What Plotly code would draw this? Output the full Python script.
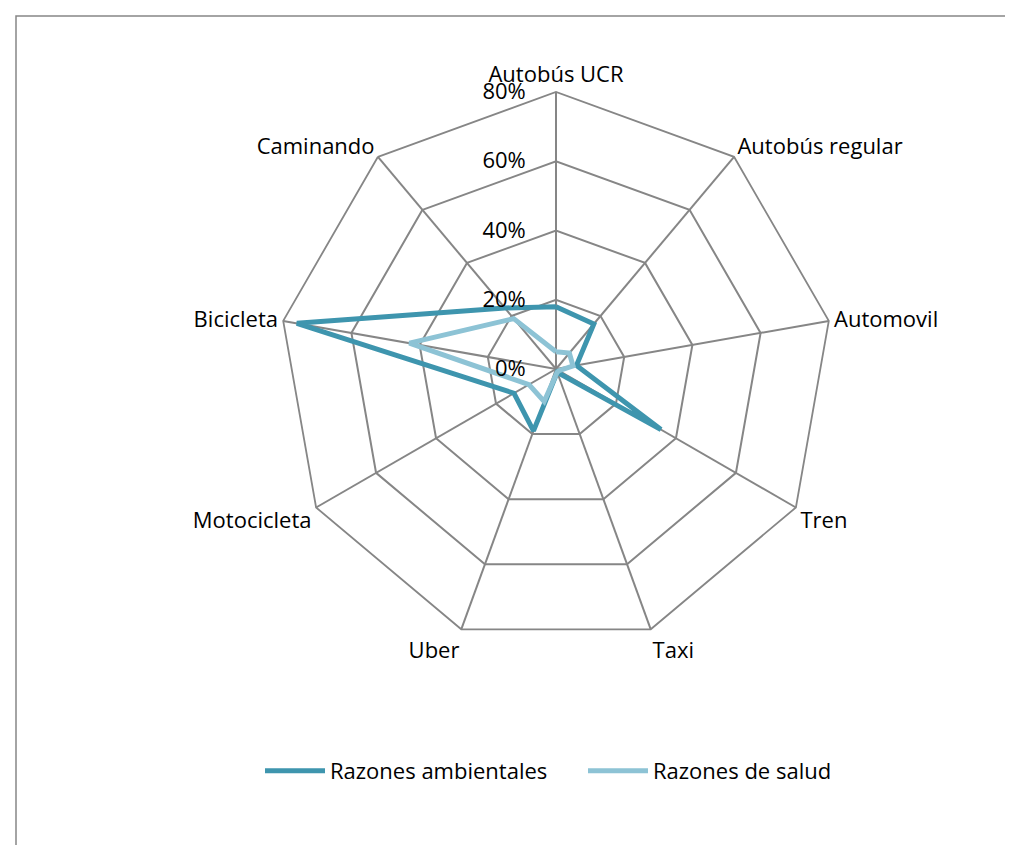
import plotly.graph_objects as go

categorias = ["Autobús UCR", "Autobús regular", "Automovil", "Tren", "Taxi",
              "Uber", "Motocicleta", "Bicicleta", "Caminando"]
ambientales = [0.18, 0.17, 0.06, 0.35, 0.01, 0.19, 0.14, 0.76, 0.23]
salud = [0.05, 0.06, 0.05, 0.01, 0.01, 0.10, 0.09, 0.43, 0.19]
ticks = [0, 0.2, 0.4, 0.6, 0.8]
tick_labels = ["0%", "20%", "40%", "60%", "80%"]

OSCURO = "#3E95AE"
CLARO = "#8DC3D5"
GRIS = "#868686"
FUENTE = "Open Sans, sans-serif"

fig = go.Figure()
for nombre, valores, color in [("Razones ambientales", ambientales, OSCURO),
                               ("Razones de salud", salud, CLARO)]:
    fig.add_scatterpolar(
        r=valores + valores[:1], theta=categorias + categorias[:1],
        mode="lines", name=nombre,
        line=dict(color=color, width=5),
    )

fig.update_layout(
    width=1013, height=845,
    margin=dict(l=0, r=0, t=0, b=0),
    paper_bgcolor="white",
    font=dict(family=FUENTE, size=22, color="black"),
    polar=dict(
        domain=dict(x=[271 / 1013, 825 / 1013], y=[1 - 638 / 845, 1 - 84 / 845]),
        bgcolor="white",
        gridshape="linear",
        radialaxis=dict(
            range=[0, 0.8], tickvals=ticks, ticktext=tick_labels,
            angle=90, tickangle=90, side="counterclockwise",
            showline=False, gridcolor=GRIS, gridwidth=1.8,
            ticks="outside", ticklen=22, tickcolor="rgba(0,0,0,0)",
            tickfont=dict(size=22),
        ),
        angularaxis=dict(
            rotation=90, direction="clockwise",
            linecolor=GRIS, linewidth=1.8,
            gridcolor=GRIS, gridwidth=1.8, ticks="",
            tickfont=dict(size=22),
        ),
    ),
    legend=dict(
        orientation="h", x=252 / 1013, xanchor="left", y=1 - 763 / 845, yanchor="middle",
        font=dict(size=22), itemwidth=60, entrywidth=248, entrywidthmode="pixels",
    ),
    shapes=[dict(type="rect", xref="paper", yref="paper",
                 x0=8 / 1013, x1=1.02, y0=-0.02, y1=1 - 8 / 845,
                 line=dict(color=GRIS, width=1.5))],
)

fig.write_html("out.html")
